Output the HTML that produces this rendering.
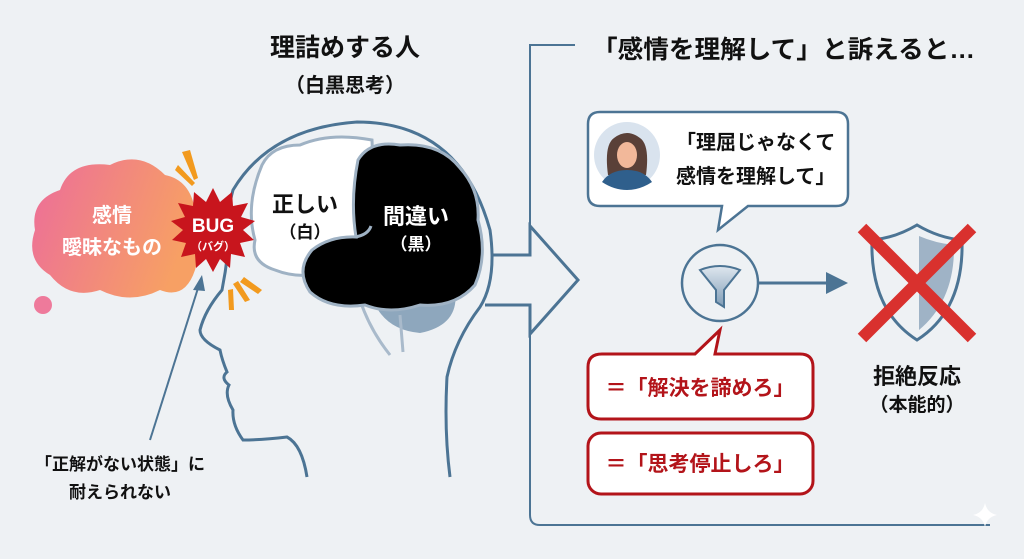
<!DOCTYPE html>
<html><head><meta charset="utf-8"><style>
html,body{margin:0;padding:0;background:#eef1f4;}
svg{display:block}
text{font-family:"Liberation Sans","Noto Sans CJK JP",sans-serif;font-weight:bold;}
</style></head><body>
<svg width="1024" height="559" viewBox="0 0 1024 559" xmlns="http://www.w3.org/2000/svg">
<defs>
<linearGradient id="pk" x1="0" y1="0" x2="1" y2="0.3">
<stop offset="0" stop-color="#ec6d9a"/><stop offset="1" stop-color="#f7a064"/></linearGradient>
<linearGradient id="fn" x1="0" y1="0" x2="0" y2="1"><stop offset="0" stop-color="#dfe7ef"/><stop offset="1" stop-color="#7f9cb6"/></linearGradient>
</defs>
<rect width="1024" height="559" fill="#eef1f4"/>
<!-- titles -->
<text x="345" y="56" font-size="25" text-anchor="middle" fill="#111">理詰めする人</text>
<text x="345" y="92" font-size="20" text-anchor="middle" fill="#111">（白黒思考）</text>
<text x="592" y="58" font-size="25" textLength="383" lengthAdjust="spacingAndGlyphs" fill="#111">「感情を理解して」と訴えると…</text>
<!-- bracket -->
<path d="M575 45 H530 V515 Q530 525 540 525 H990" fill="none" stroke="#4c7494" stroke-width="2"/>
<!-- big arrow -->
<path d="M485 255 H530 V226 L578 280 L530 334 V305 H485" fill="#eef1f4" stroke="#4c7494" stroke-width="3"/>
<!-- head -->
<path d="M307 477 Q302 445 287 437 Q262 440 243 440 Q232 425 233 410 Q224 395 229 385 Q220 378 227 372 Q222 360 220 350 Q200 340 200 330 Q205 310 222 290 Q226 270 228 250 Q226 215 233 190 Q270 128 357 122 Q460 122 490 230 Q497 280 480 307 Q455 340 447 377 Q444 430 450 477" fill="#eef1f4" stroke="#4c7494" stroke-width="3"/>
<!-- brain -->
<path d="M373 290 Q410 278 455 290 Q460 325 420 333 Q385 330 373 300 Z" fill="#8ea7bd"/>
<path d="M360 300 Q370 330 390 355 M400 315 L403 352" stroke="#a9bacb" stroke-width="3" fill="none"/>
<path d="M262 165 Q272 145 300 145 Q330 132 372 140 Q375 200 362 240 Q345 262 332 272 Q300 280 275 270 Q250 262 255 240 Q245 205 262 165 Z" fill="#fff" stroke="#9fb2c4" stroke-width="3"/>
<path d="M358 160 Q370 140 400 145 Q440 142 460 168 Q480 190 478 220 Q488 255 475 285 Q455 308 420 305 Q390 315 365 305 Q330 310 310 292 Q295 270 312 250 Q330 236 356 237 Q350 200 358 160 Z" fill="#000" stroke="#9fb2c4" stroke-width="3"/>
<path d="M355 237 Q368 235 371 226" stroke="#9fb2c4" stroke-width="3" fill="none"/>
<text x="305" y="212" font-size="22" text-anchor="middle" fill="#111">正しい</text>
<text x="305" y="238" font-size="17" text-anchor="middle" fill="#111">（白）</text>
<text x="416" y="224" font-size="22" text-anchor="middle" fill="#fff">間違い</text>
<text x="416" y="250" font-size="17" text-anchor="middle" fill="#fff">（黒）</text>
<!-- cloud -->
<path d="M60 190 Q70 160 110 165 Q140 150 165 175 Q190 180 195 210 Q205 240 195 270 Q185 300 160 290 Q130 305 100 290 Q70 300 50 275 Q25 260 35 230 Q30 200 60 190 Z" fill="url(#pk)"/>
<circle cx="43" cy="305" r="9" fill="#ee7a9b"/>
<text x="112" y="222" font-size="20" text-anchor="middle" fill="#fff">感情</text>
<text x="112" y="254" font-size="20" text-anchor="middle" fill="#fff">曖昧なもの</text>
<!-- starburst -->
<polygon fill="#c8151d" points="213,188 220,202 232,192 233,206 248,203 241,217 255,221 243,230 254,240 240,243 245,257 231,254 230,268 220,259 213,272 206,259 196,268 195,254 181,257 186,243 172,240 183,230 171,221 185,217 178,203 193,206 194,192 206,202"/>
<text x="213" y="232" font-size="19" text-anchor="middle" fill="#fff">BUG</text>
<text x="213" y="250" font-size="11" text-anchor="middle" fill="#fff">（バグ）</text>
<g fill="#f29a1e"><polygon points="182,152 190,150 198,178 194,180"/><polygon points="175,170 178,165 195,183 192,186"/><polygon points="233,284 238,281 250,300 245,302"/><polygon points="240,282 244,277 262,290 258,294"/><polygon points="228,290 233,289 234,310 229,310"/></g>
<!-- thin arrow -->
<line x1="150" y1="440" x2="199" y2="285" stroke="#4c7494" stroke-width="2"/>
<polygon points="202,275 193,290 205,291" fill="#4c7494"/>
<text x="120" y="470" font-size="17" text-anchor="middle" fill="#111">「正解がない状態」に</text>
<text x="120" y="498" font-size="17" text-anchor="middle" fill="#111">耐えられない</text>
<!-- speech bubble -->
<path d="M600 112 H836 Q848 112 848 124 V194 Q848 206 836 206 H748 L718 230 L722 206 H600 Q588 206 588 194 V124 Q588 112 600 112 Z" fill="#fff" stroke="#4c7494" stroke-width="2.5"/>
<circle cx="627" cy="155" r="33" fill="#d9e3ee"/>
<path d="M608 175 Q604 145 614 138 Q627 128 640 138 Q650 145 646 175 Z" fill="#5a4038"/>
<ellipse cx="627" cy="155" rx="10" ry="13" fill="#f2b89a"/>
<path d="M602 182 Q610 170 627 170 Q644 170 652 182 Q640 190 627 190 Q614 190 602 182 Z" fill="#2f5f8c"/>
<text x="676" y="149" font-size="20" fill="#111">「理屈じゃなくて</text>
<text x="676" y="183" font-size="20" fill="#111">感情を理解して」</text>
<!-- filter -->
<circle cx="720" cy="283" r="38" fill="#eef1f4" stroke="#4c7494" stroke-width="2.5"/>
<path d="M700 270 Q720 262 740 270 L724 290 V307 L716 302 V290 Z" fill="url(#fn)" stroke="#4c7494" stroke-width="2"/>
<line x1="758" y1="283" x2="830" y2="283" stroke="#4c7494" stroke-width="3"/>
<polygon points="826,272 848,283 826,294" fill="#4c7494"/>
<!-- shield -->
<path d="M917 225 Q895 238 872 240 Q870 310 917 340 Q964 310 962 240 Q939 238 917 225 Z" fill="#eef1f4" stroke="#4c7494" stroke-width="3"/>
<path d="M919 236 Q935 243 954 245 Q955 300 919 330 Z" fill="#9fb3c6"/>
<g stroke="#d9312e" stroke-width="12"><line x1="862" y1="228" x2="972" y2="338"/><line x1="972" y1="228" x2="862" y2="338"/></g>
<text x="917" y="384" font-size="22" text-anchor="middle" fill="#111">拒絶反応</text>
<text x="917" y="411" font-size="19" text-anchor="middle" fill="#111">（本能的）</text>
<!-- red boxes -->
<path d="M602 354 H695 L720 330 L715 354 H800 Q813 354 813 367 V406 Q813 419 800 419 H601 Q588 419 588 406 V367 Q588 354 602 354 Z" fill="#fff" stroke="#b3141a" stroke-width="3"/>
<text x="700" y="395" font-size="21" text-anchor="middle" fill="#b3141a">＝「解決を諦めろ」</text>
<rect x="588" y="433" width="225" height="61" rx="13" fill="#fff" stroke="#b3141a" stroke-width="3"/>
<text x="700" y="471" font-size="21" text-anchor="middle" fill="#b3141a">＝「思考停止しろ」</text>
<path d="M985 503 Q987 513 997 515 Q987 517 985 527 Q983 517 973 515 Q983 513 985 503 Z" fill="#fff"/>
</svg>
</body></html>
